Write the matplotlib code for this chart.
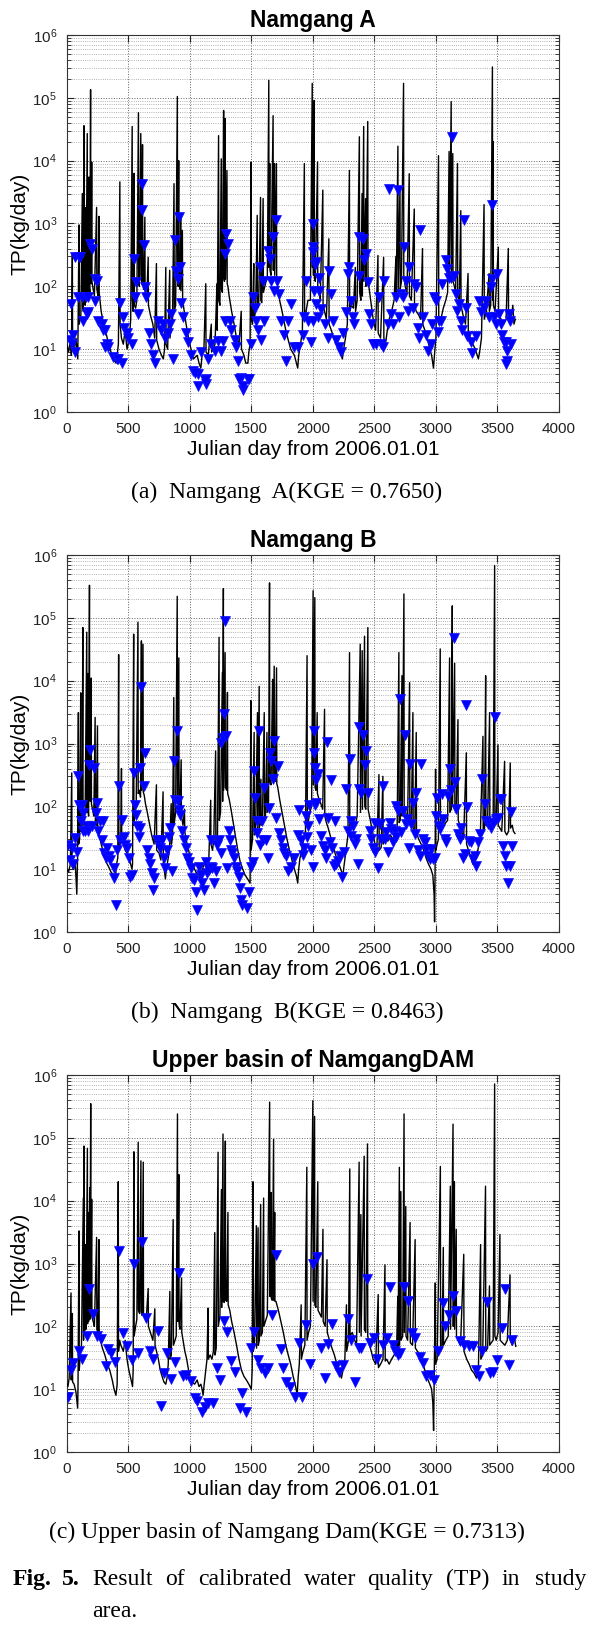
import matplotlib
matplotlib.use("Agg")
import matplotlib.pyplot as plt
import numpy as np

plt.rcParams['font.family'] = ['Liberation Sans', 'DejaVu Sans']

# simulated TP load (day, kg/day), vertices
sim_a = [(0, 12), (15, 9), (30, 14), (38, 8), (46, 330), (48, 12), (60, 9), (75, 15), (90, 7), (100, 950),
         (102, 25), (115, 35), (127, 3000), (129, 60), (135, 40), (140, 36000), (142, 80), (150, 50), (155, 1800),
         (157, 70), (167, 27000), (169, 90), (175, 60), (181, 5500), (183, 100), (188, 80), (194, 135000),
         (196, 150), (200, 110), (203, 9500), (205, 120), (215, 90), (225, 70), (243, 1800), (245, 90), (255, 70),
         (262, 1300), (264, 80), (280, 40), (300, 25), (320, 18), (340, 12), (360, 9), (380, 7), (400, 6),
         (410, 8), (420, 12), (432, 4600), (434, 25), (445, 15), (460, 12), (475, 20), (490, 10), (510, 15),
         (520, 30), (532, 35000), (534, 60), (540, 40), (548, 6300), (550, 50), (560, 45), (570, 60), (583, 58000),
         (585, 120), (590, 100), (602, 27000), (604, 150), (610, 110), (616, 18000), (618, 130), (625, 90),
         (635, 1260), (637, 80), (650, 60), (662, 290), (664, 50), (680, 35), (700, 25), (715, 15), (729, 230),
         (731, 14), (750, 10), (770, 8), (785, 7), (795, 10), (805, 200), (807, 12), (820, 10), (837, 180),
         (839, 15), (850, 25), (860, 30), (872, 4300), (874, 40), (885, 50), (899, 105000), (901, 130), (905, 100),
         (910, 10000), (912, 110), (920, 90), (926, 1260), (928, 85), (940, 780), (942, 60), (955, 40), (970, 25),
         (990, 15), (1010, 10), (1030, 7), (1060, 8), (1075, 6), (1090, 5), (1100, 8), (1115, 10), (1130, 110),
         (1132, 9), (1150, 8), (1175, 25), (1177, 9), (1190, 10), (1205, 12), (1221, 110), (1223, 20),
         (1234, 25000), (1236, 60), (1245, 50), (1256, 10700), (1258, 90), (1265, 80), (1275, 63000), (1277, 140),
         (1282, 120), (1288, 47000), (1290, 130), (1302, 7000), (1304, 110), (1310, 100), (1320, 70), (1340, 40),
         (1360, 25), (1380, 15), (1400, 12), (1418, 40), (1420, 10), (1440, 8), (1455, 6), (1472, 6), (1480, 9),
         (1490, 12), (1499, 9500), (1501, 30), (1510, 25), (1520, 230), (1522, 30), (1535, 40), (1548, 1350),
         (1550, 45), (1560, 50), (1575, 2600), (1577, 60), (1585, 55), (1596, 2500), (1598, 80), (1610, 100),
         (1620, 120), (1630, 130), (1642, 190000), (1644, 200), (1650, 9000), (1652, 180), (1660, 150),
         (1677, 52000), (1679, 180), (1688, 9000), (1690, 150), (1704, 9000), (1706, 120), (1715, 100), (1730, 60),
         (1750, 40), (1780, 20), (1800, 14), (1820, 10), (1850, 8), (1877, 5), (1885, 8), (1900, 12), (1915, 20),
         (1931, 9000), (1933, 30), (1945, 40), (1960, 60), (1980, 60), (1995, 170000), (1997, 200), (2003, 2000),
         (2005, 150), (2011, 91000), (2013, 140), (2020, 120), (2038, 9500), (2040, 100), (2050, 80), (2060, 60),
         (2081, 3400), (2083, 50), (2095, 40), (2110, 30), (2130, 570), (2132, 25), (2150, 20), (2170, 15),
         (2190, 12), (2210, 10), (2230, 8), (2240, 7), (2250, 10), (2265, 15), (2280, 25), (2297, 7000), (2299, 40),
         (2310, 50), (2330, 45), (2345, 200), (2347, 40), (2360, 60), (2378, 24000), (2380, 80), (2390, 60),
         (2400, 3000), (2402, 70), (2413, 35000), (2415, 120), (2429, 2500), (2431, 100), (2446, 42000), (2448, 150),
         (2455, 100), (2470, 60), (2490, 30), (2510, 20), (2529, 310), (2531, 18), (2550, 15), (2575, 290),
         (2577, 15), (2590, 12), (2605, 20), (2620, 30), (2640, 40), (2660, 60), (2675, 300), (2677, 60),
         (2691, 17000), (2693, 80), (2708, 3800), (2710, 90), (2720, 120), (2737, 170000), (2739, 150), (2750, 100),
         (2765, 80), (2783, 6200), (2785, 70), (2800, 60), (2824, 1700), (2826, 50), (2840, 40), (2860, 35),
         (2875, 30), (2891, 400), (2893, 25), (2910, 20), (2930, 15), (2950, 10), (2965, 8), (2980, 5), (2990, 9),
         (3000, 15), (3021, 12000), (3023, 25), (3040, 30), (3060, 45), (3080, 60), (3095, 80), (3107, 14000),
         (3109, 120), (3124, 87000), (3126, 150), (3137, 13000), (3139, 120), (3150, 100), (3160, 80), (3175, 9000),
         (3177, 70), (3190, 60), (3202, 1600), (3204, 50), (3220, 35), (3240, 25), (3261, 160), (3263, 20),
         (3280, 15), (3300, 12), (3320, 10), (3345, 7), (3355, 9), (3370, 15), (3391, 2000), (3393, 30), (3410, 40),
         (3432, 160), (3434, 40), (3445, 50), (3459, 310000), (3461, 60), (3465, 20000), (3467, 50), (3480, 40),
         (3507, 420), (3509, 35), (3530, 30), (3550, 25), (3570, 30), (3588, 400), (3590, 30), (3600, 25),
         (3615, 35), (3625, 50), (3634, 25), (3645, 30)]

obs_a = [(27, 14), (41, 12), (35, 52), (54, 17), (68, 9), (68, 290), (100, 290), (108, 290), (89, 67), (122, 67),
         (154, 67), (176, 67), (135, 28), (162, 36), (176, 39), (189, 475), (203, 400), (230, 131), (248, 123),
         (230, 59), (257, 28), (284, 25), (297, 20), (311, 20), (324, 12), (311, 11), (338, 11), (378, 7.5),
         (405, 7), (419, 7), (446, 6), (432, 55), (459, 32), (467, 22), (486, 18), (500, 15), (527, 12), (546, 275),
         (562, 116), (554, 67), (581, 36), (608, 4300), (608, 1630), (627, 450), (635, 96), (648, 67), (670, 18),
         (689, 12), (702, 8), (716, 6), (743, 28), (764, 20), (783, 25), (797, 15), (824, 18), (837, 25), (851, 36),
         (864, 7), (878, 540), (891, 178), (905, 131), (910, 1260), (918, 200), (926, 55), (945, 32), (972, 18),
         (986, 13), (1013, 8), (1026, 4.5), (1067, 4), (1094, 9), (1134, 3.3), (1148, 7), (1175, 12), (1202, 9.4),
         (1229, 13.6), (1256, 9.4), (1269, 13.6), (1283, 28), (1283, 330), (1296, 690), (1310, 475), (1323, 28),
         (1337, 20), (1364, 14), (1378, 11), (1391, 6.5), (1418, 3.5), (1472, 3.3), (1499, 12), (1512, 67),
         (1526, 46), (1540, 28), (1553, 20), (1567, 200), (1580, 14), (1594, 123), (1607, 28), (1634, 370),
         (1648, 275), (1661, 123), (1675, 605), (1688, 85), (1702, 1120), (1710, 123), (1729, 76), (1742, 28),
         (1769, 17), (1783, 6.5), (1796, 28), (1823, 52), (1850, 11), (1877, 11), (1918, 17), (1931, 32),
         (1945, 123), (1958, 28), (1999, 980), (1999, 430), (2012, 85), (1067, 2.6), (1134, 2.8), (1121, 3.2),
         (1040, 4.2), (1404, 3.4), (1480, 3.3), (1431, 2.2), (1431, 2.6),
         (2005, 350), (2014, 215), (2027, 240), (2049, 138), (2054, 85), (2022, 52), (2041, 32), (2000, 28),
         (1986, 13), (2068, 44), (2095, 25), (2122, 15), (2130, 178), (2149, 76), (2162, 28), (2189, 14),
         (2211, 11), (2230, 9), (2243, 18), (2270, 39), (2284, 158), (2297, 200), (2311, 59), (2324, 32),
         (2338, 25), (2373, 605), (2378, 148), (2405, 570), (2419, 260), (2432, 330), (2446, 116), (2459, 36),
         (2473, 25), (2486, 12), (2513, 12), (2540, 67), (2554, 12), (2567, 11), (2581, 123), (2608, 25),
         (2621, 3600), (2635, 36), (2648, 25), (2675, 67), (2689, 3400), (2702, 32), (2716, 76), (2729, 67),
         (2743, 420), (2756, 123), (2770, 41), (2783, 200), (2810, 46), (2824, 110), (2837, 96), (2851, 22),
         (2864, 15), (2870, 775), (2891, 32), (2918, 17), (2932, 9.4), (2959, 12), (2972, 25), (2986, 67),
         (2999, 59), (3013, 19), (3026, 28), (3040, 28), (3053, 110), (3080, 260), (3094, 190), (3107, 138),
         (3121, 138), (3134, 24000), (3148, 148), (3161, 76), (3175, 41), (3188, 52), (3202, 28), (3215, 20),
         (3229, 1120), (3242, 46), (3256, 16), (3283, 13), (3296, 8.8), (3324, 16), (3350, 59), (3364, 39),
         (3391, 46), (3404, 59), (3432, 32), (3445, 96), (3459, 2000), (3459, 131), (3472, 32), (3486, 25),
         (3499, 158), (3512, 36), (3526, 25), (3540, 17), (3553, 13), (3566, 13), (3580, 9.4), (3594, 36),
         (3599, 28), (3607, 12), (3580, 6.5), (3572, 5.8)]

sim_b = [(0, 10), (15, 9), (30, 12), (41, 340), (43, 11), (55, 10), (70, 12), (82, 4), (88, 14), (95, 3100),
         (97, 25), (105, 30), (114, 6400), (116, 40), (125, 45), (131, 70000), (133, 60), (140, 50), (150, 90),
         (163, 59000), (165, 80), (171, 13000), (173, 90), (178, 70), (185, 330000), (187, 150), (192, 120),
         (199, 11000), (201, 110), (210, 90), (220, 70), (231, 2600), (233, 60), (240, 50), (250, 1900), (252, 45),
         (265, 35), (280, 25), (300, 18), (320, 13), (340, 11), (360, 9), (380, 8), (394, 7), (405, 12), (415, 15),
         (422, 26000), (424, 20), (430, 25), (440, 40), (445, 400), (447, 30), (460, 25), (475, 20), (490, 18),
         (505, 15), (520, 12), (530, 10), (535, 12), (544, 55000), (546, 50), (555, 100), (565, 120),
         (579, 85000), (581, 160), (590, 180), (600, 140), (607, 43000), (609, 180), (620, 38000), (622, 170),
         (630, 150), (640, 110), (655, 80), (675, 50), (690, 35), (710, 25), (729, 220), (731, 20), (750, 18),
         (765, 14), (783, 170), (785, 12), (795, 9), (802, 7), (810, 10), (825, 15), (835, 20), (849, 110),
         (851, 25), (860, 35), (870, 5400), (872, 50), (885, 80), (898, 220000), (900, 120), (911, 23000),
         (913, 100), (920, 80), (930, 550), (932, 70), (945, 50), (957, 90), (959, 40), (970, 30), (990, 20),
         (1010, 14), (1030, 11), (1050, 9), (1070, 8), (1085, 7), (1095, 9), (1110, 11), (1125, 13), (1140, 10),
         (1155, 15), (1170, 125), (1172, 25), (1185, 20), (1195, 30), (1210, 760), (1212, 25), (1225, 35),
         (1238, 49000), (1240, 60), (1250, 80), (1265, 13500), (1267, 120), (1273, 290000), (1275, 180),
         (1287, 28000), (1289, 200), (1300, 180), (1306, 6500), (1308, 160), (1320, 130), (1335, 90), (1350, 60),
         (1370, 35), (1390, 20), (1410, 13), (1430, 10), (1450, 8), (1470, 7), (1490, 6), (1496, 4800), (1498, 20),
         (1510, 30), (1523, 1500), (1525, 35), (1535, 40), (1550, 3100), (1552, 40), (1564, 8100), (1566, 45),
         (1578, 270), (1580, 50), (1590, 55), (1605, 3100), (1607, 60), (1615, 70), (1627, 1500), (1629, 80),
         (1640, 120), (1648, 360000), (1650, 250), (1660, 220), (1673, 10500), (1675, 260), (1686, 17000),
         (1688, 280), (1695, 250), (1705, 16000), (1707, 230), (1715, 200), (1730, 130), (1750, 80), (1770, 50),
         (1790, 30), (1810, 20), (1830, 14), (1850, 10), (1865, 8), (1877, 6), (1885, 10), (1895, 15), (1910, 20),
         (1925, 30), (1940, 40), (1953, 25000), (1955, 50), (1965, 60), (1975, 80), (1990, 100), (2002, 270000),
         (2004, 220), (2016, 210000), (2018, 200), (2025, 180), (2035, 3100), (2037, 160), (2050, 130), (2065, 110),
         (2080, 90), (2095, 3500), (2097, 70), (2110, 55), (2125, 45), (2140, 35), (2160, 25), (2180, 18),
         (2200, 14), (2220, 11), (2235, 9), (2244, 8), (2255, 12), (2270, 20), (2285, 35), (2298, 28000),
         (2300, 45), (2315, 50), (2330, 60), (2345, 50), (2360, 70), (2385, 38000), (2387, 80), (2401, 30000),
         (2403, 90), (2420, 51000), (2422, 100), (2430, 90), (2447, 70000), (2449, 90), (2460, 70), (2475, 50),
         (2490, 35), (2505, 25), (2520, 20), (2537, 320), (2539, 20), (2555, 22), (2569, 300), (2571, 25),
         (2590, 30), (2610, 28), (2630, 35), (2650, 30), (2670, 40), (2685, 45), (2699, 28000), (2701, 55),
         (2710, 60), (2724, 12000), (2726, 70), (2740, 240000), (2742, 90), (2755, 80), (2770, 60), (2786, 9300),
         (2788, 55), (2800, 50), (2813, 3100), (2815, 45), (2828, 40), (2840, 1500), (2842, 38), (2860, 30),
         (2880, 25), (2900, 20), (2920, 15), (2940, 12), (2960, 10), (2975, 8), (2985, 4), (2989, 1.45),
         (2993, 8), (2997, 390), (2999, 20), (3010, 25), (3020, 30), (3035, 32000), (3037, 40), (3050, 45),
         (3065, 50), (3080, 55), (3095, 60), (3111, 23000), (3113, 80), (3125, 90), (3133, 155000), (3135, 100),
         (3152, 19000), (3154, 90), (3165, 80), (3179, 2400), (3181, 60), (3195, 50), (3210, 40), (3225, 30),
         (3247, 710), (3249, 25), (3265, 20), (3285, 15), (3300, 12), (3320, 15), (3340, 20), (3360, 30),
         (3382, 1300), (3384, 40), (3395, 45), (3404, 12000), (3406, 50), (3420, 55), (3436, 3100), (3438, 60),
         (3450, 55), (3465, 60), (3477, 680000), (3479, 70), (3490, 60), (3504, 950), (3506, 50), (3520, 45),
         (3535, 40), (3558, 520), (3560, 40), (3575, 35), (3590, 40), (3604, 490), (3606, 45), (3620, 50),
         (3630, 40), (3642, 37)]

obs_b = [(14, 24), (27, 14), (41, 22), (49, 12), (68, 31), (82, 19), (95, 300), (103, 106), (114, 58), (122, 106),
         (131, 78), (136, 40), (150, 40), (163, 48), (177, 40), (190, 800), (185, 460), (204, 48), (223, 410),
         (239, 78), (245, 113), (258, 40), (272, 58), (286, 29), (299, 58), (307, 18), (321, 15), (326, 22),
         (340, 16), (354, 14), (381, 10.4), (386, 7.2), (400, 2.7), (408, 20), (422, 210), (435, 29), (449, 61),
         (462, 33), (476, 24), (490, 22), (503, 15), (517, 7.6), (530, 8.1), (544, 340), (558, 106), (566, 74),
         (571, 48), (585, 33), (598, 45), (607, 7800), (598, 410), (639, 710), (631, 210), (653, 20), (666, 15),
         (675, 12), (694, 8.6), (707, 7.2), (702, 4.7), (734, 29), (748, 24), (762, 22), (775, 29), (789, 15),
         (802, 10.4), (816, 20), (830, 33), (843, 45), (857, 9.2), (870, 520), (884, 128), (898, 1580), (903, 120),
         (911, 89), (919, 74), (938, 40), (952, 29), (966, 22), (979, 15), (993, 13), (1006, 10.4), (1020, 7.2),
         (1034, 6.8), (1047, 4.4), (1061, 2.2), (1074, 11), (1088, 8.1), (1102, 6), (1115, 4.7), (1129, 13),
         (1142, 8.6), (1156, 9.8), (1170, 29), (1175, 11), (1183, 10.4), (1197, 6), (1210, 9.2), (1224, 24),
         (1238, 29), (1251, 18), (1257, 1020), (1268, 1230), (1278, 2900), (1287, 89000), (1292, 1320),
         (1306, 10.4), (1319, 40), (1327, 29), (1333, 20), (1346, 18), (1360, 15), (1374, 11), (1387, 9.2),
         (1401, 7.6), (1409, 5), (1414, 3.2), (1428, 2.7), (1469, 2.4), (1482, 4.4), (1496, 11), (1510, 13),
         (1523, 360), (1531, 135), (1545, 58), (1550, 37), (1564, 1580), (1572, 24), (1583, 58), (1591, 29),
         (1605, 195), (1618, 29), (1632, 15), (1640, 94), (1648, 710), (1659, 520), (1673, 270), (1686, 1090),
         (1700, 65), (1714, 435), (1727, 37), (1741, 29), (1754, 22), (1768, 18), (1782, 16), (1795, 9.2),
         (1822, 11), (1850, 15), (1877, 35), (1890, 89), (1904, 29), (1918, 17), (1931, 22), (1945, 69),
         (1953, 33), (1964, 48), (1972, 106), (1986, 20), (1999, 11), (2013, 1580), (2013, 710), (2018, 410),
         (2018, 106), (2027, 260), (2041, 330), (2027, 115), (2054, 63), (2068, 34), (2081, 23), (2095, 20),
         (2108, 15.3), (2114, 1050), (2122, 66), (2136, 27), (2149, 260), (2157, 22), (2168, 11.3), (2176, 59),
         (2190, 12), (2203, 13.6), (2217, 16.3), (2238, 7.4), (2257, 18.5), (2271, 190), (2285, 41), (2298, 570),
         (2306, 59), (2312, 34), (2325, 49), (2339, 25), (2352, 30), (2366, 12), (2374, 190), (2379, 1800),
         (2393, 165), (2407, 1350), (2420, 450), (2434, 770), (2447, 165), (2461, 41), (2474, 30), (2488, 22),
         (2501, 55), (2509, 18.5), (2528, 10.6), (2542, 52), (2556, 30), (2569, 210), (2583, 30), (2596, 39),
         (2610, 18.5), (2623, 55), (2637, 44), (2650, 27), (2664, 41), (2672, 102), (2678, 32), (2691, 85),
         (2705, 5100), (2718, 39), (2732, 85), (2745, 1350), (2753, 52), (2764, 63), (2780, 22), (2786, 480),
         (2799, 52), (2813, 115), (2827, 36), (2840, 165), (2854, 20), (2867, 16.3), (2881, 480), (2894, 30),
         (2908, 27), (2921, 21), (2935, 16.3), (2949, 14.4), (2962, 21), (2976, 14.4), (2989, 15.3), (3003, 71),
         (3011, 138), (3024, 49), (3035, 44), (3046, 158), (3057, 63), (3070, 30), (3084, 27), (3098, 148),
         (3111, 400), (3125, 180), (3144, 47000), (3152, 240), (3165, 91), (3179, 36), (3192, 30), (3206, 46),
         (3220, 15.3), (3233, 17.4), (3247, 4100), (3255, 96), (3268, 28), (3287, 27), (3301, 14.4), (3314, 16.3),
         (3328, 11.3), (3341, 27), (3355, 36), (3377, 275), (3396, 109), (3409, 59), (3423, 52), (3436, 55),
         (3450, 46), (3463, 55), (3477, 2600), (3491, 63), (3504, 66), (3518, 130), (3531, 130), (3545, 23),
         (3558, 16.3), (3572, 11.3), (3585, 6.1), (3599, 11.3), (3612, 80), (3621, 23)]

sim_c = [(0, 12), (10, 11), (20, 15), (35, 340), (37, 14), (46, 160), (48, 13), (60, 12), (75, 9), (89, 5),
         (92, 12), (100, 3300), (102, 20), (110, 35), (120, 50), (135, 11000), (137, 60), (141, 74000), (143, 80),
         (150, 90), (155, 2000), (157, 90), (168, 68000), (170, 110), (176, 6500), (178, 120), (187, 16000),
         (189, 130), (195, 350000), (197, 150), (203, 10500), (205, 140), (215, 120), (225, 100), (243, 2600),
         (245, 90), (253, 80), (262, 2400), (264, 70), (275, 60), (290, 45), (310, 35), (330, 25), (350, 20),
         (370, 14), (385, 10), (400, 8), (410, 12), (419, 20000), (421, 40), (430, 60), (440, 50), (450, 45),
         (460, 40), (475, 60), (490, 30), (505, 20), (520, 15), (535, 11), (540, 20), (546, 60000), (548, 70),
         (560, 100), (570, 130), (581, 85000), (583, 180), (592, 160), (603, 43000), (605, 170), (612, 150),
         (622, 41000), (624, 160), (635, 140), (645, 120), (662, 400), (664, 100), (680, 80), (700, 60),
         (716, 190), (718, 50), (730, 40), (745, 30), (760, 20), (775, 16), (790, 13), (805, 12), (815, 15),
         (825, 25), (838, 360), (840, 30), (850, 35), (865, 5000), (867, 50), (880, 60), (890, 70), (900, 240000),
         (902, 120), (911, 26000), (913, 110), (920, 90), (933, 590), (935, 80), (945, 60), (960, 40), (975, 30),
         (990, 20), (1005, 15), (1020, 13), (1040, 12), (1060, 14), (1075, 11), (1090, 12), (1100, 10), (1108, 8),
         (1115, 11), (1130, 20), (1140, 30), (1149, 195), (1151, 30), (1165, 35), (1180, 30), (1192, 40),
         (1203, 3100), (1205, 35), (1215, 45), (1230, 59000), (1232, 100), (1245, 150), (1257, 15000), (1259, 200),
         (1270, 115000), (1272, 250), (1280, 240), (1289, 89000), (1291, 260), (1300, 250), (1310, 6500),
         (1312, 220), (1325, 180), (1340, 120), (1360, 80), (1380, 50), (1400, 30), (1420, 20), (1440, 16),
         (1460, 14), (1480, 12), (1500, 10), (1507, 20), (1514, 20000), (1516, 40), (1525, 50), (1541, 4000),
         (1543, 45), (1555, 3700), (1557, 50), (1565, 60), (1576, 8700), (1578, 70), (1590, 80), (1600, 11000),
         (1602, 100), (1615, 120), (1630, 150), (1649, 370000), (1651, 300), (1660, 13500), (1662, 280),
         (1670, 260), (1681, 95000), (1683, 260), (1690, 6500), (1692, 250), (1700, 250), (1720, 180), (1740, 120),
         (1760, 80), (1780, 50), (1800, 35), (1820, 25), (1840, 16), (1860, 11), (1873, 8), (1880, 15), (1890, 25),
         (1905, 220), (1907, 30), (1920, 40), (1935, 50), (1951, 34000), (1953, 60), (1965, 80), (1980, 100),
         (2000, 390000), (2002, 250), (2014, 220000), (2016, 220), (2025, 200), (2040, 20000), (2042, 180),
         (2055, 160), (2070, 140), (2082, 3500), (2084, 120), (2100, 100), (2115, 1150), (2117, 80), (2135, 60),
         (2155, 45), (2175, 35), (2195, 25), (2215, 20), (2232, 15), (2245, 20), (2260, 30), (2273, 220),
         (2275, 40), (2290, 60), (2300, 32000), (2302, 70), (2320, 80), (2340, 60), (2355, 50), (2376, 41000),
         (2378, 80), (2390, 6000), (2392, 70), (2417, 51000), (2419, 90), (2430, 80), (2444, 80000), (2446, 70),
         (2460, 50), (2475, 40), (2490, 30), (2510, 25), (2531, 320), (2533, 22), (2550, 25), (2570, 30),
         (2586, 950), (2588, 28), (2600, 30), (2620, 25), (2640, 30), (2660, 35), (2680, 40), (2690, 300),
         (2692, 40), (2703, 34000), (2705, 50), (2715, 14000), (2717, 60), (2730, 70), (2741, 240000), (2743, 80),
         (2755, 8100), (2757, 70), (2770, 60), (2790, 4500), (2792, 55), (2810, 50), (2831, 2400), (2833, 45),
         (2850, 40), (2870, 35), (2890, 28), (2910, 20), (2930, 15), (2950, 12), (2965, 10), (2975, 6),
         (2981, 2.2), (2985, 10), (2995, 490), (2997, 25), (3010, 30), (3036, 35000), (3038, 40), (3050, 45),
         (3060, 1800), (3062, 50), (3080, 60), (3100, 70), (3117, 17000), (3119, 90), (3139, 165000), (3141, 100),
         (3150, 20000), (3152, 90), (3165, 3500), (3167, 70), (3180, 60), (3200, 50), (3226, 1400), (3228, 40),
         (3250, 30), (3270, 25), (3290, 20), (3310, 18), (3330, 15), (3345, 20), (3363, 2000), (3365, 30),
         (3380, 35), (3403, 17000), (3405, 40), (3420, 45), (3435, 440), (3437, 50), (3450, 55), (3465, 60),
         (3477, 720000), (3479, 70), (3490, 60), (3505, 80), (3520, 2900), (3522, 60), (3540, 55), (3560, 50),
         (3580, 60), (3602, 660), (3604, 60), (3620, 50), (3635, 70), (3649, 48)]

obs_c = [(8, 7.6), (35, 20), (54, 26), (100, 40), (127, 30), (162, 71), (184, 400), (216, 160), (249, 71),
         (278, 63), (316, 23), (338, 44), (360, 38), (392, 27), (427, 1600), (459, 78), (487, 48), (527, 29),
         (546, 1000), (581, 38), (608, 2200), (641, 135), (676, 40), (703, 30), (738, 83), (770, 5.4), (792, 18),
         (819, 38), (846, 14.5), (878, 27), (911, 700), (946, 16), (973, 17), (1008, 13.5), (1041, 7.2),
         (1062, 6.4), (1100, 4.4), (1127, 5.2), (1149, 6), (1189, 6), (1222, 22), (1243, 14), (1279, 120),
         (1306, 80), (1338, 28), (1370, 19), (1406, 5), (1424, 8.8), (1460, 4.4), (1495, 45), (1519, 80),
         (1554, 29), (1581, 22), (1608, 18), (1635, 22), (1668, 150), (1703, 1350), (1738, 44), (1757, 22),
         (1784, 13), (1816, 11), (1852, 7.6), (1887, 54), (1911, 7.4), (1946, 106), (1973, 25), (2005, 1000),
         (2035, 1260), (2068, 45), (2123, 52), (2095, 15), (2158, 110), (2191, 23), (2213, 19), (2245, 24),
         (2286, 130), (2313, 60), (2341, 13), (2376, 46), (2395, 46), (2436, 570), (2463, 54), (2496, 65),
         (2523, 30), (2567, 50), (2605, 65), (2627, 430), (2649, 51), (2668, 40), (2695, 35), (2708, 38),
         (2744, 430), (2771, 250), (2804, 78), (2831, 65), (2867, 33), (2894, 26), (2921, 16.5), (2954, 17),
         (2981, 14), (3014, 40), (3057, 235), (3076, 100), (3104, 150), (3139, 300), (3166, 175), (3199, 58),
         (3232, 50), (3267, 49), (3302, 49), (3322, 20), (3349, 16), (3376, 40), (3411, 240), (3439, 18),
         (3466, 18.5), (3499, 29), (3534, 95), (3559, 400), (3594, 24), (3621, 61)]

titles = ['Namgang A', 'Namgang B', 'Upper basin of NamgangDAM']
captions = ['(a)  Namgang  A(KGE = 0.7650)', '(b)  Namgang  B(KGE = 0.8463)',
            '(c) Upper basin of Namgang Dam(KGE = 0.7313)']
xticks = [0, 500, 1000, 1500, 2000, 2500, 3000, 3500, 4000]

W, H = 600, 1626
fig = plt.figure(figsize=(W / 100, H / 100), dpi=100)

tops = [35, 555, 1075]
panels = [(sim_a, obs_a), (sim_b, obs_b), (sim_c, obs_c)]
for i, (sim, obs) in enumerate(panels):
    top = tops[i]
    ax = fig.add_axes([66.7 / W, 1 - (top + 377) / H, 492.3 / W, 377 / H])
    sd, sv = np.array(sim).T
    od, ov = np.array(obs).T
    ax.plot(sd, sv, color='black', lw=1.0, zorder=3)
    ax.plot(od, ov, 'v', color='#0000ff', ms=6.5, mec='#1010ff', mew=0.5, zorder=4)
    ax.set_yscale('log')
    ax.set_xlim(0, 4000)
    ax.set_ylim(1, 1e6)
    ax.set_xticks(xticks)
    ax.grid(True, which='major', linestyle=':', color='#666666', lw=0.7)
    ax.grid(True, which='minor', axis='y', linestyle=':', color='#999999', lw=0.6)
    ax.tick_params(which='both', direction='in', top=True, right=True, labelsize=11, colors='#222222')
    ax.tick_params(which='major', length=5, pad=7)
    ax.tick_params(which='minor', length=3)
    for s in ax.spines.values():
        s.set_color('#333333')
        s.set_linewidth(0.8)
    ax.set_title(titles[i], fontsize=16.5, fontweight='bold', pad=6)
    ax.set_xlabel('Julian day from 2006.01.01', fontsize=15, labelpad=3)
    ax.set_ylabel('TP(kg/day)', fontsize=15, labelpad=2)
    fig.text(287 / W, 1 - (top + 377 + 86) / H, captions[i], fontsize=17,
             family=['Liberation Serif', 'DejaVu Serif'], ha='center', va='baseline')

# figure caption, words spread across the line as in the source
serif = ['Liberation Serif', 'DejaVu Serif']
line1 = [('Fig.', 13, 'bold'), ('5.', 62, 'bold'), ('Result', 92, 'normal'), ('of', 165, 'normal'),
         ('calibrated', 198, 'normal'), ('water', 304, 'normal'), ('quality', 367, 'normal'),
         ('(TP)', 446, 'normal'), ('in', 502, 'normal'), ('study', 535, 'normal')]
for word, x, wt in line1:
    fig.text(x / W, 1 - 1585 / H, word, fontsize=17, family=serif, fontweight=wt, ha='left', va='baseline')
fig.text(92 / W, 1 - 1617 / H, 'area.', fontsize=17, family=serif, ha='left', va='baseline')

fig.savefig('out.png', dpi=100)
